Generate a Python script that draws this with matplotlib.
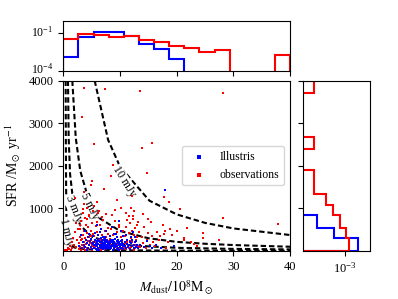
import numpy as np
import matplotlib
matplotlib.use("Agg")
from matplotlib import pyplot as plt
from matplotlib.transforms import ScaledTranslation

plt.rcParams['font.family'] = 'serif'
plt.rcParams['font.serif'] = ['Liberation Serif', 'DejaVu Serif']
plt.rcParams['mathtext.fontset'] = 'stix'

# Illustris galaxies (dust mass in 1e8 Msun, SFR in Msun/yr)
ill_mdust = [2.8, 3.1, 3.3, 3.5, 3.6, 3.8, 3.9, 4.0, 4.1, 4.2, 4.3, 4.4, 4.5, 4.6, 4.7, 4.8, 4.9, 5.0, 5.1, 5.2, 5.3,
             5.4, 5.5, 5.5, 5.6, 5.7, 5.7, 5.8, 5.9, 5.9, 6.0, 6.0, 6.1, 6.2, 6.2, 6.3, 6.3, 6.4, 6.5, 6.5, 6.6, 6.6,
             6.7, 6.8, 6.8, 6.9, 6.9, 7.0, 7.0, 7.1, 7.1, 7.2, 7.2, 7.3, 7.3, 7.4, 7.4, 7.5, 7.5, 7.6, 7.6, 7.7, 7.7,
             7.8, 7.8, 7.9, 7.9, 5.6, 6.1, 6.7, 7.3, 5.9, 6.4, 7.0, 7.6,
             8.0, 8.1, 8.2, 8.2, 8.3, 8.4, 8.4, 8.5, 8.6, 8.6, 8.7, 8.8, 8.8, 8.9, 9.0, 9.0, 9.1, 9.2, 9.2, 9.3, 9.4,
             9.4, 9.5, 9.6, 9.6, 9.7, 9.8, 9.8, 9.9, 10.0, 10.0, 10.1, 10.2, 10.2, 10.3, 10.4, 10.4, 10.5, 10.6, 10.6,
             8.3, 8.9, 9.5, 10.1, 8.6, 9.3, 9.9, 10.5,
             10.8, 10.9, 11.0, 11.2, 11.3, 11.4, 11.6, 11.7, 11.8, 12.0, 12.1, 12.2, 12.4, 12.5, 12.6, 12.8, 12.9,
             13.0, 13.2, 11.1, 11.9, 12.3, 12.7,
             13.6, 14.2, 14.8, 15.3, 15.7, 16.3, 17.2, 17.9, 19.5]
ill_sfr = [120, 380, 60, 210, 150, 90, 460, 250, 30, 180, 320, 70, 140, 410, 230, 100, 280, 40, 190, 350, 160,
           80, 210, 140, 260, 50, 170, 110, 230, 30, 190, 120, 280, 70, 160, 240, 20, 130, 200, 90, 310, 150,
           60, 220, 180, 100, 270, 40, 140, 250, 190, 80, 120, 230, 60, 170, 290, 110, 210, 150, 40, 260, 90,
           180, 130, 70, 220, 420, 370, 520, 340, 600, 450, 330, 480,
           150, 90, 230, 40, 180, 120, 260, 70, 200, 140, 30, 250, 110, 170, 60, 220, 130, 280, 90, 160, 50,
           240, 120, 190, 80, 270, 140, 30, 210, 100, 170, 60, 230, 130, 190, 80, 250, 110, 160, 40,
           360, 410, 330, 480, 560, 390, 700, 350,
           120, 200, 60, 170, 250, 90, 140, 220, 40, 180, 110, 260, 70, 150, 200, 100, 240,
           130, 80, 380, 320, 450, 340,
           150, 90, 230, 120, 60, 140, 80, 1440, 110]

# observed galaxies
obs_mdust = [2.1, 3.58, 3.29, 5.05, 4.95, 3.7, 7.35, 5.34, 7.15, 8.75, 8.35, 9.46, 12.1, 12.3,
             13.5, 13.9, 15.6, 14.8, 17.8, 18.6, 16.6, 17.0, 18.0, 17.7,
             20.5, 20.0, 21.2, 21.2, 18.8, 19.1, 21.8, 23.0, 22.5, 23.5, 24.6, 24.6, 28.1, 28.1, 27.5, 37.9,
             0.1, 0.2, 0.3, 0.5, 0.6, 0.8, 1.0, 1.1, 1.3, 1.5, 1.6, 1.8, 1.9, 2.0, 2.2, 2.3, 2.5, 2.6,
             2.7, 2.8, 2.9, 3.0, 3.0, 3.1, 3.2, 3.2, 3.3, 3.4, 3.4, 3.5, 3.6, 3.6, 3.7, 3.8, 3.8, 3.9, 4.0, 4.0,
             4.1, 4.2, 4.2, 4.3, 4.4, 4.4, 4.5, 4.6, 4.6, 4.7, 4.8, 4.8, 4.9, 5.0, 5.0, 5.1, 5.2, 5.2, 5.3,
             2.9, 3.3, 3.7, 4.1, 4.5, 4.9, 5.1, 3.5,
             5.4, 5.5, 5.6, 5.7, 5.8, 5.9, 6.0, 6.1, 6.2, 6.3, 6.4, 6.5, 6.6, 6.7, 6.8, 6.9, 7.0, 7.1, 7.2, 7.3,
             7.4, 7.5, 7.6, 7.7, 7.8, 7.9, 5.5, 5.9, 6.3, 6.7, 7.1, 7.5, 7.9, 6.0, 6.9,
             8.1, 8.2, 8.4, 8.5, 8.7, 8.8, 9.0, 9.1, 9.3, 9.4, 9.6, 9.7, 9.9, 10.0, 10.2, 10.3, 10.5, 10.6,
             8.6, 9.2, 9.8, 10.4, 8.9, 10.1,
             10.7, 10.8, 10.9, 11.0, 11.1, 11.2, 11.3, 11.4, 11.5, 11.6, 11.7, 11.8, 11.9, 12.0, 12.1, 12.2,
             12.3, 12.4, 12.5, 12.6, 12.7, 12.8, 12.9, 13.0, 13.1, 13.2, 13.3, 11.0, 11.5, 12.0, 12.5, 13.0,
             11.3, 12.7,
             13.5, 13.8, 14.0, 14.3, 14.5, 14.8, 15.0, 15.3, 15.5, 15.8, 14.1, 14.9, 15.6,
             16.2, 16.9, 17.5, 18.1, 18.4]
obs_sfr = [1238, 3835, 3135, 1640, 1548, 1392, 3800, 2516, 1452, 2030, 1772, 1208, 1294, 818,
           3755, 2420, 2545, 1825, 1260, 1154, 444, 350, 467, 390,
           995, 460, 313, 257, 507, 374, 547, 157, 220, 120, 430, 297, 3701, 780, 257, 640,
           10, 20, 5, 30, 15, 60, 40, 120, 25, 200, 80, 310, 150, 450, 90, 650, 260, 520,
           40, 180, 320, 90, 520, 250, 20, 700, 140, 380, 60, 900, 210, 460, 110, 780, 30, 300, 170, 620,
           80, 420, 1000, 240, 50, 560, 130, 340, 850, 190, 70, 480, 270, 120, 660, 30, 400, 950, 220,
           600, 280, 1100, 740, 820, 360, 150, 980,
           120, 350, 60, 580, 210, 30, 440, 160, 900, 80, 270, 620, 40, 190, 380, 110, 720, 250, 50, 480,
           150, 320, 860, 90, 230, 540, 1050, 680, 940, 20, 300, 130, 410, 1150, 800,
           60, 290, 150, 520, 30, 380, 200, 700, 90, 440, 130, 260, 600, 40, 330, 170, 480, 110,
           850, 960, 560, 230, 70, 1000,
           80, 350, 180, 560, 40, 270, 720, 130, 420, 60, 230, 650, 300, 100, 480, 200,
           760, 30, 380, 150, 540, 250, 90, 330, 680, 120, 440, 900, 820, 1020, 950, 600,
           210, 70,
           90, 320, 180, 560, 60, 250, 420, 140, 680, 200, 880, 740, 360,
           120, 260, 600, 80, 200]

# constant flux curves (dust mass, SFR)
flux_labels = ['1 mJy', '3 mJy', '5 mJy', '10 mJy']
flux_mdust = [[0.42, 0.45, 0.5, 0.55, 0.6, 0.75, 1.1, 2, 4, 10, 20, 40],
              [0.83, 0.95, 1.2, 1.9, 3, 5, 8, 12, 20, 30, 40],
              [1.59, 2.2, 3, 4.7, 6.5, 10, 15, 20, 25, 30, 40],
              [5.53, 7.9, 10, 15.2, 20, 25, 30, 40]]
flux_sfr = [[4000, 2600, 1500, 900, 450, 280, 157, 80, 40, 17, 9, 5],
            [4000, 2650, 1800, 990, 600, 340, 200, 130, 75, 50, 38],
            [4000, 2650, 1880, 1100, 760, 470, 300, 215, 170, 140, 100],
            [4000, 2610, 1980, 1180, 860, 660, 530, 375]]
label_pos = [(0.6, 450, -76), (1.9, 990, -68), (4.7, 1060, -64), (10.7, 1630, -58)]

# histograms (density)
mdust_edges = [0, 2.67, 5.33, 8, 10.67, 13.33, 16, 18.67, 21.33, 24, 26.67, 29.33, 32, 34.67, 37.33, 40]
obs_mdust_hist = [0.035, 0.094, 0.069, 0.048, 0.065, 0.031, 0.019, 0.010, 0.0070, 0.0034, 0.0049, 0, 0, 0, 0.0018]
ill_mdust_hist = [0.00126, 0.051, 0.136, 0.12, 0.058, 0.013, 0.0059, 0.00081, 0, 0, 0, 0, 0, 0, 0]
sfr_edges = [0, 297, 547, 834, 1091, 1348, 1620, 1891, 2133, 2400, 2670, 2933, 3200, 3467, 3720, 4000]
obs_sfr_hist = [1.5e-3, 1.1e-3, 6.3e-4, 3.3e-4, 1.7e-4, 5.5e-5, 5.5e-5, 0, 0, 5.5e-5, 0, 0, 0, 0, 5.5e-5]
ill_sfr_hist = [3.47e-3, 3.58e-4, 7.1e-5, 0, 0, 0, 0, 0, 0, 0, 0, 0, 0, 0, 0]

fig = plt.figure(figsize=(3.98, 2.99), dpi=100)
ax = fig.add_axes([0.159, 0.1605, 0.57, 0.57])
ax_top = fig.add_axes([0.159, 0.7635, 0.57, 0.167], sharex=ax)
ax_right = fig.add_axes([0.762, 0.1605, 0.1676, 0.57], sharey=ax)

for i in range(len(flux_labels)):
    ax.plot(flux_mdust[i], flux_sfr[i], color='k', lw=1.5, dashes=(2.6, 1.4), zorder=1)
    x, y, rot = label_pos[i]
    ax.text(x, y, flux_labels[i], rotation=rot, rotation_mode='anchor', ha='center', va='center',
            fontsize=8.5, zorder=1.5,
            bbox=dict(facecolor='white', edgecolor='none', pad=0.3))

# observations first so the Illustris cloud sits on top
sc_obs = ax.scatter(obs_mdust, obs_sfr, s=4, color='red', marker='s', linewidths=0, label='observations', zorder=2)
sc_ill = ax.scatter(ill_mdust, ill_sfr, s=4, color='blue', marker='s', linewidths=0, label='Illustris', zorder=2)

ax.set_xlim(0, 40)
ax.set_ylim(0, 4000)
ax.set_yticks([1000, 2000, 3000, 4000])
ax.set_xticks([0, 10, 20, 30, 40])
ax.tick_params(labelsize=9)
ax.set_xlabel(r'$M_{\rm dust}/10^8{\rm M}_\odot$', fontsize=10)
ax.set_ylabel(r'SFR /M$_\odot$ yr$^{-1}$', fontsize=10)
ax.legend(handles=[sc_ill, sc_obs], loc='center right', fontsize=8.5, markerscale=1.3)

# top histogram
ax_top.hist(mdust_edges[:-1], bins=mdust_edges, weights=ill_mdust_hist, histtype='step', color='blue', lw=1.5, log=True)
ax_top.hist(mdust_edges[:-1], bins=mdust_edges, weights=obs_mdust_hist, histtype='step', color='red', lw=1.5, log=True)
ax_top.set_ylim(1e-4, 1)
ax_top.set_yticks([1e-4, 1e-1])
ax_top.minorticks_off()
ax_top.tick_params(labelbottom=False, labelsize=8.5)
# nudge the top panel's tick labels up a hair so 10^-4 clears the 4000 below it
for lab in ax_top.get_yticklabels():
    lab.set_transform(lab.get_transform() + ScaledTranslation(0, 0.025, fig.dpi_scale_trans))

# right histogram
ax_right.hist(sfr_edges[:-1], bins=sfr_edges, weights=ill_sfr_hist, histtype='step', color='blue', lw=1.5,
              orientation='horizontal', log=True)
ax_right.hist(sfr_edges[:-1], bins=sfr_edges, weights=obs_sfr_hist, histtype='step', color='red', lw=1.5,
              orientation='horizontal', log=True)
ax_right.set_xlim(2e-5, 1.05e-2)
ax_right.set_xticks([1e-3])
ax_right.minorticks_off()
ax_right.tick_params(labelleft=False, labelsize=9)

ax_top.set_xlim(0, 40)
ax.set_ylim(0, 4000)

fig.savefig('out.png', dpi=100)
